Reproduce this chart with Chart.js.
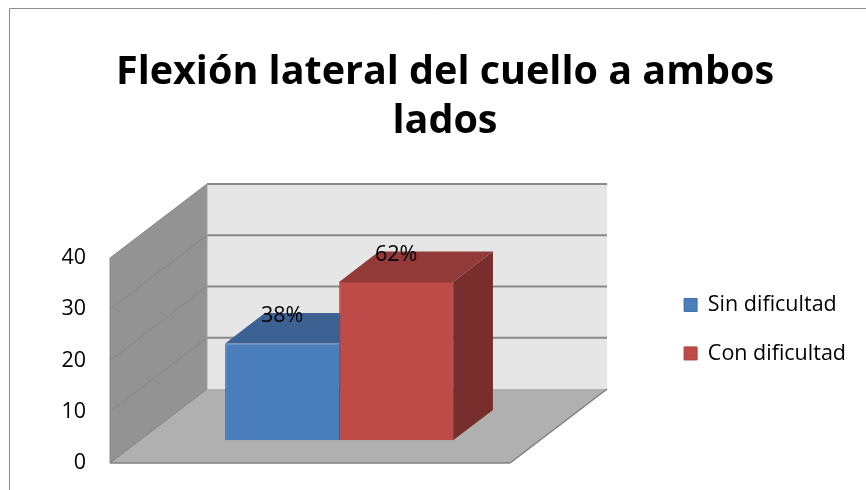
<!DOCTYPE html>
<html lang="es">
<head>
<meta charset="utf-8">
<title>Flexión lateral del cuello a ambos lados</title>
<script src="https://cdn.jsdelivr.net/npm/chart.js@4/dist/chart.umd.min.js"></script>
<style>
  html, body { margin: 0; padding: 0; background: #fff; }
  canvas { display: block; }
</style>
</head>
<body>
<canvas id="neckChart" width="866" height="490"></canvas>
<script>
'use strict';

// ----- data -----
const TITLE_LINES = ['Flexión lateral del cuello a ambos', 'lados'];
const CATEGORIES = [''];
const SERIES_NAMES = ['Sin dificultad', 'Con dificultad'];
const SIN_DIFICULTAD = [19];
const CON_DIFICULTAD = [31];
const Y_TICKS = [0, 10, 20, 30, 40];

const FONT = "'Open Sans', 'DejaVu Sans', sans-serif";
const TEXT_SIZE = 21.5;

const COLORS = {
  blue: { front: '#4a7ebb', top: '#3c6192', side: '#30507a', edge: '#3f6ea6' },
  red: { front: '#be4b48', top: '#923a37', side: '#772e2c', edge: '#a8413e' },
  sideWall: '#939393',
  backWall: '#e6e6e6',
  floor: '#b0b0b0',
  grid: '#898989',
  sideGrid: '#858585',
  edge: '#7f7f7f',
  frame: '#8c8c8c',
};

// depth of the box (back wall offset from the front plane)
const DEPTH = { dx: 97, dy: -74 };
const BAR_FRONT = 0.30;   // bar front face, as a share of the box depth
const BAR_DEPTH = 0.41;   // bar thickness, as a share of the box depth

function fillPoly(ctx, pts, color) {
  ctx.beginPath();
  ctx.moveTo(pts[0][0], pts[0][1]);
  for (let i = 1; i < pts.length; i++) ctx.lineTo(pts[i][0], pts[i][1]);
  ctx.closePath();
  ctx.fillStyle = color;
  ctx.fill();
}

function line(ctx, x1, y1, x2, y2, color, width) {
  ctx.beginPath();
  ctx.moveTo(x1, y1);
  ctx.lineTo(x2, y2);
  ctx.strokeStyle = color;
  ctx.lineWidth = width;
  ctx.stroke();
}

const totalCount = SIN_DIFICULTAD[0] + CON_DIFICULTAD[0];
const pct = (v) => Math.round(v / totalCount * 100) + '%';

// ===== 3D box, bar faces and value labels =====
const box3d = {
  id: 'box3d',
  beforeDraw(chart) {
    const { ctx } = chart;
    ctx.save();
    line(ctx, 9.5, 8.5, chart.width, 8.5, COLORS.frame, 1);
    line(ctx, 9.5, 8.5, 9.5, chart.height, COLORS.frame, 1);
    ctx.restore();
  },
  beforeDatasetsDraw(chart) {
    const { ctx, chartArea: a, scales: { y } } = chart;
    const { dx, dy } = DEPTH;
    const x0 = a.left, x1 = a.right;
    const yb = y.getPixelForValue(Y_TICKS[0]);
    const yt = y.getPixelForValue(Y_TICKS[Y_TICKS.length - 1]);

    ctx.save();
    // side wall
    fillPoly(ctx, [[x0, yb], [x0, yt], [x0 + dx, yt + dy], [x0 + dx, yb + dy]], COLORS.sideWall);
    // back wall
    fillPoly(ctx, [[x0 + dx, yt + dy], [x1 + dx, yt + dy], [x1 + dx, yb + dy], [x0 + dx, yb + dy]], COLORS.backWall);
    // floor
    fillPoly(ctx, [[x0, yb], [x1, yb], [x1 + dx, yb + dy], [x0 + dx, yb + dy]], COLORS.floor);

    // gridlines on side and back walls
    Y_TICKS.slice(1).forEach(v => {
      const py = y.getPixelForValue(v);
      line(ctx, x0, py, x0 + dx, py + dy, COLORS.sideGrid, 1);
      line(ctx, x0 + dx, py + dy, x1 + dx, py + dy, COLORS.grid, 2);
    });
    line(ctx, x0 + dx, yt + dy, x0 + dx, yb + dy, '#a0a0a0', 1);

    // floor edges
    line(ctx, x0, yb, x1, yb, COLORS.edge, 1.5);
    line(ctx, x1, yb, x1 + dx, yb + dy, COLORS.edge, 1.5);
    line(ctx, x0, yb, x0 + dx, yb + dy, COLORS.edge, 1);
    line(ctx, x0, yb, x0, yt, '#8a8a8a', 1);

    // top and side faces of each bar (front faces come from Chart.js)
    const sx = dx * BAR_FRONT, sy = dy * BAR_FRONT;
    const bx = dx * BAR_DEPTH, by = dy * BAR_DEPTH;
    chart.data.datasets.forEach((ds, i) => {
      const meta = chart.getDatasetMeta(i);
      const c = ds.faces;
      meta.data.forEach(el => {
        const { x, y: top, base, width } = el.getProps(['x', 'y', 'base', 'width'], true);
        const l = x - width / 2 + sx, r = x + width / 2 + sx;
        const t = top + sy, b = base + sy;
        fillPoly(ctx, [[r, t], [r + bx, t + by], [r + bx, b + by], [r, b]], c.side);
        fillPoly(ctx, [[l, t], [r, t], [r + bx, t + by], [l + bx, t + by]], c.top);
      });
    });

    ctx.restore();
    ctx.save();
    ctx.translate(sx, sy);
  },
  afterDatasetsDraw(chart) {
    const { ctx } = chart;
    ctx.restore();

    const sx = DEPTH.dx * BAR_FRONT, sy = DEPTH.dy * BAR_FRONT;
    const by = DEPTH.dy * BAR_DEPTH;
    ctx.save();
    ctx.font = `${TEXT_SIZE}px ${FONT}`;
    ctx.fillStyle = '#000';
    ctx.textAlign = 'center';
    ctx.textBaseline = 'middle';
    chart.data.datasets.forEach((ds, i) => {
      chart.getDatasetMeta(i).data.forEach((el, j) => {
        const { x, y } = el.getProps(['x', 'y'], true);
        ctx.fillText(pct(ds.data[j]), x + sx, y + sy + by + 3);
      });
    });
    ctx.restore();
  }
};

new Chart(document.getElementById('neckChart'), {
  type: 'bar',
  data: {
    labels: CATEGORIES,
    datasets: [
      {
        label: SERIES_NAMES[0],
        data: SIN_DIFICULTAD,
        backgroundColor: COLORS.blue.front,
        borderColor: COLORS.blue.edge,
        borderWidth: 1,
        faces: COLORS.blue,
      },
      {
        label: SERIES_NAMES[1],
        data: CON_DIFICULTAD,
        backgroundColor: COLORS.red.front,
        borderColor: COLORS.red.edge,
        borderWidth: 1,
        faces: COLORS.red,
      }
    ]
  },
  options: {
    responsive: false,
    animation: false,
    barPercentage: 1,
    categoryPercentage: 0.57,
    layout: { padding: { left: 34, right: 10, top: 0, bottom: 27 } },
    plugins: {
      title: {
        display: true,
        text: TITLE_LINES,
        color: '#000',
        font: { family: FONT, size: 39.5, weight: 'bold', lineHeight: 49 / 39.5 },
        padding: { top: 48, bottom: 112 },
      },
      legend: {
        position: 'right',
        align: 'start',
        fullSize: false,
        maxWidth: 260,
        title: { display: true, text: '', font: { size: 1 }, padding: { top: 8, bottom: 0 } },
        labels: {
          color: '#000',
          font: { family: FONT, size: TEXT_SIZE },
          boxWidth: 13,
          boxHeight: 13,
          padding: 27,
        },
      },
      tooltip: { enabled: false },
    },
    scales: {
      x: { display: false },
      y: {
        min: 0,
        max: 40,
        afterFit: (s) => { s.width = 76; },
        ticks: {
          stepSize: 10,
          padding: 3,
          color: '#000',
          font: { family: FONT, size: TEXT_SIZE },
        },
        // invisible tick marks keep the labels clear of the side wall
        grid: {
          display: true,
          drawOnChartArea: false,
          drawTicks: true,
          tickLength: 21,
          color: 'transparent',
          tickColor: 'transparent',
        },
        border: { display: false },
      },
      // empty strip between the plot box and the legend
      legendGap: {
        type: 'linear',
        position: 'right',
        display: true,
        afterFit: (s) => { s.width = 147; },
        ticks: { display: false },
        grid: { display: false, drawTicks: false },
        border: { display: false },
      },
    },
  },
  plugins: [box3d],
});
</script>
</body>
</html>
